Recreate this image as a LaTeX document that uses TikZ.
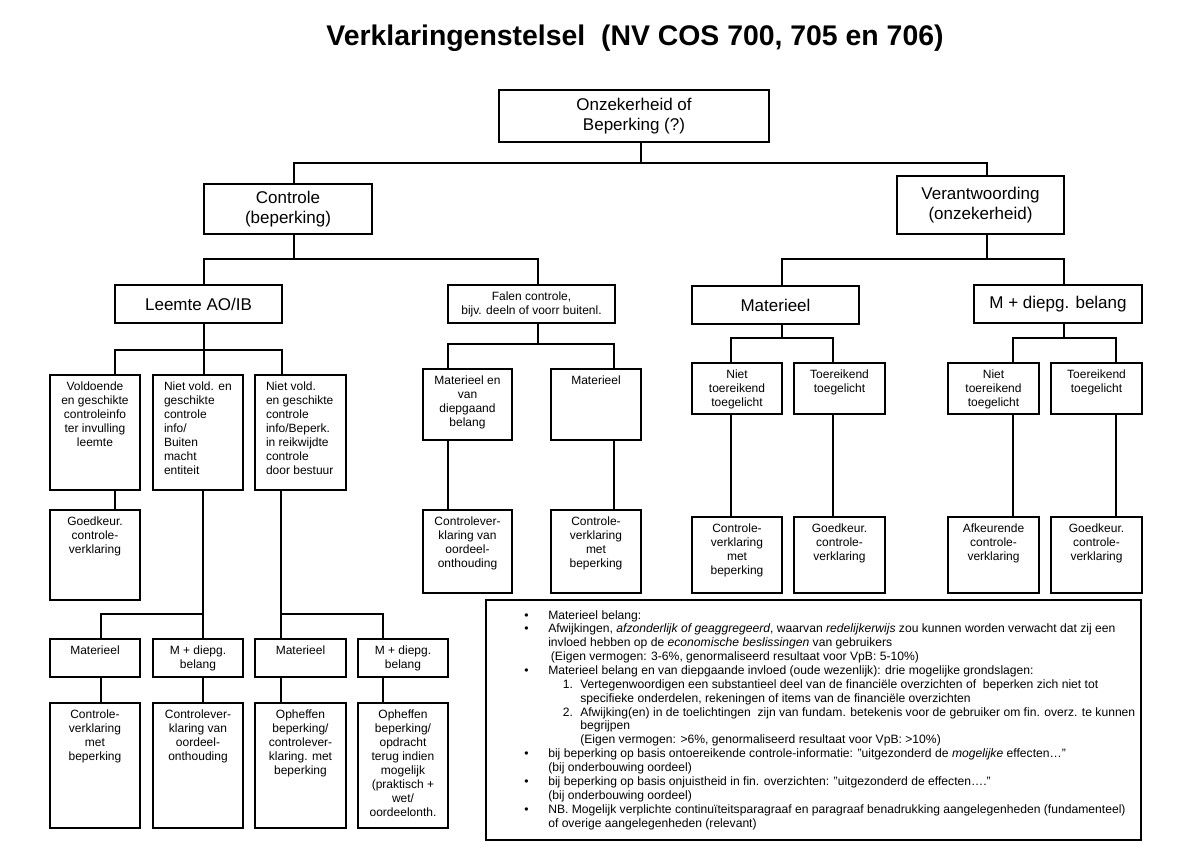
\documentclass[tikz,border=0pt]{standalone}
\usepackage{fontspec}
\setmainfont{Liberation Sans}
\usepackage{tikz}
\usetikzlibrary{fit}

% indents for the notes block (1px = 0.75pt)
\newcommand{\notebul}{\makebox[21pt][l]{\hspace{3pt}•}}
\newcommand{\notecont}{\hspace*{21pt}}
\newcommand{\notenum}[1]{\hspace*{32pt}\makebox[13pt][l]{#1}}
\newcommand{\notenumcont}{\hspace*{45pt}}

\tikzset{
  box/.style={draw, line width=1.5pt, inner sep=0pt, align=center},
  link/.style={line width=1.4pt},
  bigtext/.style={font=\fontsize{12.75}{15}\selectfont},
  smalltext/.style={font=\fontsize{9}{10.5}\selectfont},
  celltext/.style={anchor=north, align=center, inner sep=5.8pt, font=\fontsize{9}{10.5}\selectfont},
  celltextL/.style={celltext, anchor=north west, align=left, xshift=3pt},
  notetext/.style={align=left, inner sep=0pt, font=\fontsize{9.1}{10.4}\selectfont}
}

\begin{document}
\begin{tikzpicture}[x=0.75pt, y=-0.75pt]
    \useasboundingbox (0,0) rectangle (1200,848);

    % Title
    \node[font=\fontsize{21.3}{25}\selectfont\bfseries] (title) at (635,38) {Verklaringenstelsel\ \ (NV COS 700, 705 en 706)};

    % Upper levels
    \node[box, bigtext, minimum width=202.5pt, minimum height=39pt] (top) at (634,116) {Onzekerheid of\\Beperking (?)};
    \node[box, bigtext, minimum width=126pt, minimum height=37.5pt] (ctrl) at (288,209) {Controle\\(beperking)};
    \node[box, bigtext, minimum width=125.25pt, minimum height=43.5pt] (verant) at (980.5,205) {Verantwoording\\(onzekerheid)};
    \node[box, bigtext, minimum width=125.25pt, minimum height=28.5pt] (leemte) at (198.5,304) {Leemte AO/IB};
    \node[box, smalltext, minimum width=125.25pt, minimum height=28.5pt] (falen) at (531.5,304) {Falen controle,\\bijv. deeln of voorr buitenl.};
    \node[box, bigtext, minimum width=125.25pt, minimum height=28.5pt] (mat) at (775.5,305) {Materieel};
    \node[box, bigtext, minimum width=126pt, minimum height=28.5pt] (mdb) at (1058,304) {M + diepg. belang};

    % Leemte AO/IB branch
    \node[box, fit={(50,375) (140,490)}, label={[celltext]north:Voldoende\\en geschikte\\controleinfo\\ter invulling\\leemte}] (vold) {};
    \node[box, fit={(153,375) (243,490)}, label={[celltextL]north west:Niet vold. en\\geschikte\\controle\\info/\\Buiten\\macht\\entiteit}] (nvA) {};
    \node[box, fit={(255,375) (346,490)}, label={[celltextL]north west:Niet vold.\\en geschikte\\controle\\info/Beperk.\\in reikwijdte\\controle\\door bestuur}] (nvB) {};
    \node[box, fit={(50,510) (140,600)}, label={[celltext]north:Goedkeur.\\controle-\\verklaring}] (gk) {};
    \node[box, fit={(50,639) (140,677)}, label={[celltext]north:Materieel}] (mA) {};
    \node[box, fit={(153,639) (243,677)}, label={[celltext]north:M + diepg.\\belang}] (mdA) {};
    \node[box, fit={(255,639) (346,677)}, label={[celltext]north:Materieel}] (mB) {};
    \node[box, fit={(358,639) (448,677)}, label={[celltext]north:M + diepg.\\belang}] (mdB) {};
    \node[box, fit={(50,703) (140,828)}, label={[celltext]north:Controle-\\verklaring\\met\\beperking}] (resA) {};
    \node[box, fit={(153,703) (243,828)}, label={[celltext]north:Controlever-\\klaring van\\oordeel-\\onthouding}] (resB) {};
    \node[box, fit={(255,703) (346,828)}, label={[celltext]north:Opheffen\\beperking/\\controlever-\\klaring. met\\beperking}] (resC) {};
    \node[box, fit={(358,703) (448,828)}, label={[celltext]north:Opheffen\\beperking/\\opdracht\\terug indien\\mogelijk\\(praktisch +\\wet/\\oordeelonth.}] (resD) {};

    % Falen controle branch
    \node[box, fit={(423,369) (512,440)}, label={[celltext]north:Materieel en\\van\\diepgaand\\belang}] (mev) {};
    \node[box, fit={(551,369) (641,440)}, label={[celltext]north:Materieel}] (fmat) {};
    \node[box, fit={(423,510) (512,593)}, label={[celltext]north:Controlever-\\klaring van\\oordeel-\\onthouding}] (resE) {};
    \node[box, fit={(551,510) (641,593)}, label={[celltext]north:Controle-\\verklaring\\met\\beperking}] (resF) {};

    % Verantwoording branches
    \node[box, fit={(692,363) (782,414)}, label={[celltext]north:Niet\\toereikend\\toegelicht}] (ntA) {};
    \node[box, fit={(794,363) (885,414)}, label={[celltext]north:Toereikend\\toegelicht}] (toA) {};
    \node[box, fit={(692,517) (782,593)}, label={[celltext]north:Controle-\\verklaring\\met\\beperking}] (resG) {};
    \node[box, fit={(794,517) (885,593)}, label={[celltext]north:Goedkeur.\\controle-\\verklaring}] (resH) {};
    \node[box, fit={(948,363) (1039,414)}, label={[celltext]north:Niet\\toereikend\\toegelicht}] (ntB) {};
    \node[box, fit={(1051,363) (1142,414)}, label={[celltext]north:Toereikend\\toegelicht}] (toB) {};
    \node[box, fit={(948,517) (1039,593)}, label={[celltext]north:Afkeurende\\controle-\\verklaring}] (resI) {};
    \node[box, fit={(1051,517) (1142,593)}, label={[celltext]north:Goedkeur.\\controle-\\verklaring}] (resJ) {};

    % Connectors
    \foreach \kid/\x in {ctrl/294, verant/987}
        \draw[link] (top.south -| 641,0) -- (641,163) -| (\kid.north -| \x,0);
    \foreach \kid/\x in {leemte/204, falen/538}
        \draw[link] (ctrl.south -| 294,0) -- (294,259) -| (\kid.north -| \x,0);
    \foreach \kid/\x in {mat/782, mdb/1064}
        \draw[link] (verant.south -| 987,0) -- (987,259) -| (\kid.north -| \x,0);
    \foreach \kid/\x in {vold/115, nvA/204, nvB/282}
        \draw[link] (leemte.south -| 204,0) -- (204,350) -| (\kid.north -| \x,0);
    \foreach \kid/\x in {mA/101, mdA/203}
        \draw[link] (nvA.south -| 203,0) -- (203,614) -| (\kid.north -| \x,0);
    \foreach \kid/\x in {mB/281, mdB/383}
        \draw[link] (nvB.south -| 281,0) -- (281,614) -| (\kid.north -| \x,0);
    \foreach \kid/\x in {mev/448, fmat/614}
        \draw[link] (falen.south -| 538,0) -- (538,344) -| (\kid.north -| \x,0);
    \foreach \kid/\x in {ntA/731, toA/833}
        \draw[link] (mat.south -| 782,0) -- (782,338) -| (\kid.north -| \x,0);
    \foreach \kid/\x in {ntB/1013, toB/1116}
        \draw[link] (mdb.south -| 1064,0) -- (1064,338) -| (\kid.north -| \x,0);
    \foreach \up/\down/\x in {vold/gk/115, mA/resA/101, mdA/resB/203, mB/resC/281, mdB/resD/383,
        mev/resE/448, fmat/resF/614, ntA/resG/731, toA/resH/833, ntB/resI/1013, toB/resJ/1116}
        \draw[link] (\up.south -| \x,0) -- (\down.north -| \x,0);

    % Notes
    \node[box, fit={(486,600) (1141,840)}] (note) {};
    \node[notetext, anchor=north west] (notes) at (520,610) {%
        \notebul Materieel belang:\\
        \notebul Afwijkingen, \textit{afzonderlijk of geaggregeerd}, waarvan \textit{redelijkerwijs} zou kunnen worden verwacht dat zij een\\
        \notecont invloed hebben op de \textit{economische beslissingen} van gebruikers\\
        \notecont\hspace{2pt}(Eigen vermogen: 3-6\%, genormaliseerd resultaat voor VpB: 5-10\%)\\
        \notebul Materieel belang en van diepgaande invloed (oude wezenlijk): drie mogelijke grondslagen:\\
        \notenum{1.}Vertegenwoordigen een substantieel deel van de financiële overzichten of\ \ beperken zich niet tot\\
        \notenumcont specifieke onderdelen, rekeningen of items van de financiële overzichten\\
        \notenum{2.}Afwijking(en) in de toelichtingen\ \ zijn van fundam. betekenis voor de gebruiker om fin. overz. te kunnen\\
        \notenumcont begrijpen\\
        \notenumcont (Eigen vermogen: >6\%, genormaliseerd resultaat voor VpB: >10\%)\\
        \notebul bij beperking op basis ontoereikende controle-informatie: "uitgezonderd de \textit{mogelijke} effecten…"\\
        \notecont (bij onderbouwing oordeel)\\
        \notebul bij beperking op basis onjuistheid in fin. overzichten: "uitgezonderd de effecten…."\\
        \notecont (bij onderbouwing oordeel)\\
        \notebul NB. Mogelijk verplichte continuïteitsparagraaf en paragraaf benadrukking aangelegenheden (fundamenteel)\\
        \notecont of overige aangelegenheden (relevant)};
\end{tikzpicture}
\end{document}
